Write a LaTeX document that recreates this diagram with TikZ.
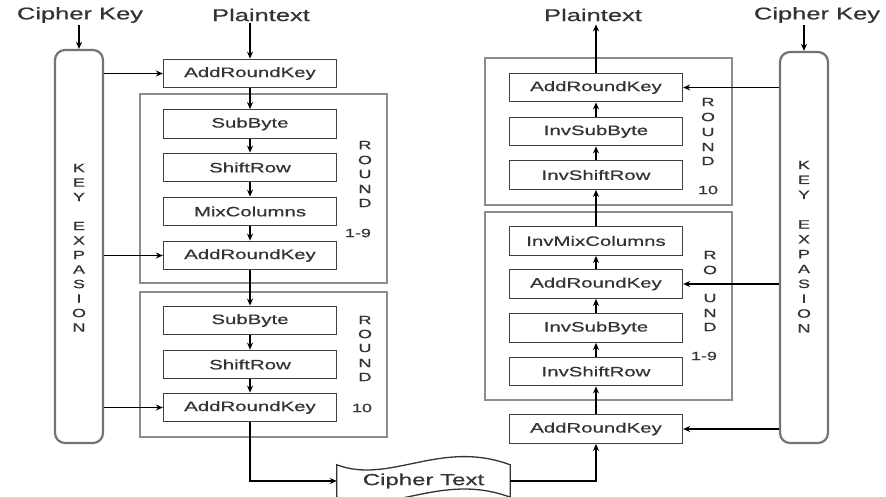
\documentclass[tikz,border=0pt]{standalone}
\usepackage{fontspec}
\setmainfont[FakeStretch=1.5,FakeBold=0.6]{Liberation Sans}
\usetikzlibrary{arrows.meta}
\begin{document}
\begin{tikzpicture}[x=1pt,y=-1pt,
  box/.style={draw=black!75, line width=1.3pt, minimum width=173pt, minimum height=28.5pt, inner sep=0pt, font=\fontsize{13.6}{15}\selectfont, text=black!80},
  outer/.style={draw=black!45, line width=1.3pt},
  pillar/.style={draw=black!55, line width=2.2pt, rounded corners=10pt, minimum width=48pt, inner sep=0pt},
  arr/.style={-{Stealth[length=7pt,width=6pt]}, line width=1.3pt},
  title/.style={font=\fontsize{17}{19}\selectfont, inner sep=0pt, text=black!80},
  lett/.style={font=\fontsize{12}{14}\selectfont, inner sep=0pt, text=black!80},
  tape/.style={draw=black!80, line width=1.3pt}
]
\useasboundingbox (0,0) rectangle (886,497);

% ---------- left: encryption ----------
\node[title] (ckL) at (80,15) {Cipher Key};
\node[title] (ptL) at (261,15) {Plaintext};
\node[pillar, minimum height=393pt] (keyL) at (79,246.5) {};
\foreach \l/\yy [count=\i] in {K/0,E/1,Y/2,E/4,X/5,P/6,A/7,S/8,I/9,O/10,N/11}
  \node[lett] (kl\i) at (79,168+\yy*14.5) {\l};

\draw[outer] (140,94) rectangle (387,283);
\draw[outer] (140,292) rectangle (387,437);

\node[box] (aL0) at (250,73.5) {AddRoundKey};
\node[box] (sL1) at (250,124) {SubByte};
\node[box] (rL1) at (250,167.5) {ShiftRow};
\node[box] (mL1) at (250,211.5) {MixColumns};
\node[box] (aL1) at (250,255.5) {AddRoundKey};
\node[box] (sL2) at (250,320.5) {SubByte};
\node[box] (rL2) at (250,364.5) {ShiftRow};
\node[box] (aL2) at (250,407.5) {AddRoundKey};

\foreach \l/\yy [count=\i] in {R/145,O/160,U/174,N/189,D/203}
  \node[lett] (rla\i) at (365,\yy) {\l};
\node[lett] (rlan) at (358,233) {1-9};
\foreach \l/\yy [count=\i] in {R/320,O/334,U/348,N/363,D/377}
  \node[lett] (rlb\i) at (365,\yy) {\l};
\node[lett] (rlbn) at (362,408) {10};

\draw[arr] (keyL.north |- ckL.south) ++(0,2) -- (keyL.north);
\draw[arr] (aL0.north |- ptL.south) ++(0,2) -- (aL0.north);
\draw[arr] (aL0) -- (sL1);
\draw[arr] (sL1) -- (rL1);
\draw[arr] (rL1) -- (mL1);
\draw[arr] (mL1) -- (aL1);
\draw[arr] (aL1) -- (sL2);
\draw[arr] (sL2) -- (rL2);
\draw[arr] (rL2) -- (aL2);
\draw[arr] (keyL.east |- aL0.west) -- (aL0.west);
\draw[arr] (keyL.east |- aL1.west) -- (aL1.west);
\draw[arr] (keyL.east |- aL2.west) -- (aL2.west);

% ---------- cipher text ----------
\node[minimum width=173pt, minimum height=32pt, inner sep=0pt, font=\fontsize{16}{18}\selectfont, text=black!80] (ct) at (423.5,481) {Cipher Text};
\draw[tape] (ct.north west) .. controls +(53,20) and +(-70,-26) .. (ct.north east)
  -- (ct.south east) .. controls +(-70,-26) and +(53,20) .. (ct.south west) -- cycle;
\draw[arr] (aL2.south) |- (ct.west);

% ---------- right: decryption ----------
\node[title] (ptR) at (593,15) {Plaintext};
\node[title] (ckR) at (817,15) {Cipher Key};
\node[pillar, minimum height=391pt] (keyR) at (804,247.5) {};
\foreach \l/\yy [count=\i] in {K/0,E/1,Y/2,E/4,X/5,P/6,A/7,S/8,I/9,O/10,N/11}
  \node[lett] (kr\i) at (804,165+\yy*14.85) {\l};

\draw[outer] (485,58) rectangle (732,205);
\draw[outer] (485,212) rectangle (732,400);

\node[box] (aR10) at (596,87.5) {AddRoundKey};
\node[box] (sR10) at (596,131.5) {InvSubByte};
\node[box] (rR10) at (596,175) {InvShiftRow};
\node[box] (mR1) at (596,241) {InvMixColumns};
\node[box] (aR1) at (596,284) {AddRoundKey};
\node[box] (sR1) at (596,328) {InvSubByte};
\node[box] (rR1) at (596,371.5) {InvShiftRow};
\node[box] (aR0) at (596,429) {AddRoundKey};

\foreach \l/\yy [count=\i] in {R/102,O/117,U/132,N/147,D/161}
  \node[lett] (rra\i) at (708,\yy) {\l};
\node[lett] (rran) at (708,190) {10};
\foreach \l/\yy [count=\i] in {R/255,O/270,U/298,N/313,D/327}
  \node[lett] (rrb\i) at (710,\yy) {\l};
\node[lett] (rrbn) at (704,356) {1-9};

\draw[arr] (keyR.north |- ckR.south) ++(0,2) -- (keyR.north);
\draw[arr] (aR10.north) -- ([yshift=-3pt]aR10.north |- ptR.south);
\draw[arr] (sR10) -- (aR10);
\draw[arr] (rR10) -- (sR10);
\draw[arr] (mR1) -- (rR10);
\draw[arr] (aR1) -- (mR1);
\draw[arr] (sR1) -- (aR1);
\draw[arr] (rR1) -- (sR1);
\draw[arr] (aR0) -- (rR1);
\draw[arr] (keyR.west |- aR10.east) -- (aR10.east);
\draw[arr] (keyR.west |- aR1.east) -- (aR1.east);
\draw[arr] (keyR.west |- aR0.east) -- (aR0.east);
\draw[arr] (ct.east) -| (aR0.south);
\end{tikzpicture}
\end{document}
